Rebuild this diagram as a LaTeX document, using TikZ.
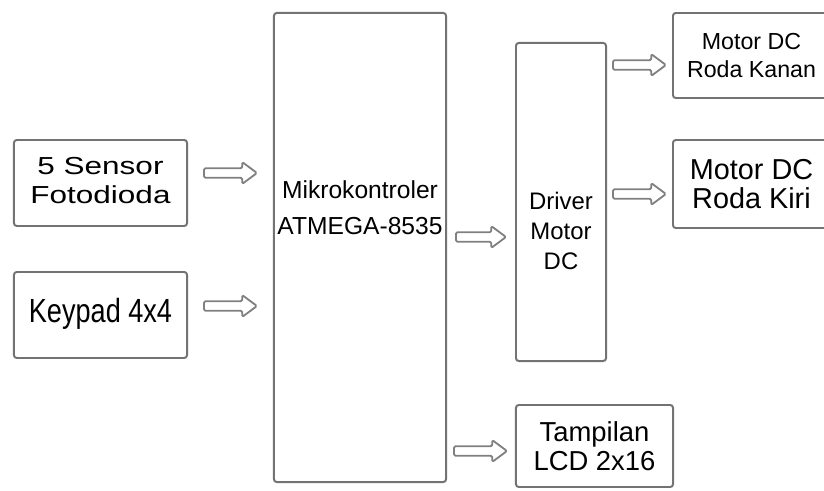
\documentclass[tikz,border=0pt]{standalone}
\usepackage{fontspec}
\setmainfont{Liberation Sans}
\usetikzlibrary{arrows.meta, positioning, calc}

\newcommand{\teksskala}[2]{\scalebox{#1}[1]{\begin{tabular}{@{}c@{}}#2\end{tabular}}}
% hollow block arrow from #1 to #2, gaps #3 (tail) and #4 (head)
\newcommand{\panah}[4]{%
  \draw[arr] let \p1=(#1), \p2=(#2) in
    (\x1+#3,\y1+3.4pt) -- (\x2-#4-10.5pt,\y1+3.4pt) -- (\x2-#4-10.5pt,\y1+7.8pt)
    -- (\x2-#4,\y1) -- (\x2-#4-10.5pt,\y1-7.8pt) -- (\x2-#4-10.5pt,\y1-3.4pt)
    -- (\x1+#3,\y1-3.4pt) -- cycle;}

\begin{document}
\begin{tikzpicture}[
  x=0.025cm, y=-0.025cm,
  blok/.style = {rectangle, rounded corners=2pt, draw=black!55,
                 line width=1.4pt, fill=white, align=center, inner sep=0pt},
  lbl/.style  = {align=center, inner sep=0pt},
  arr/.style  = {draw=black!50, line width=1.3pt, fill=white,
                 line join=round, rounded corners=1pt}
]
\path[use as bounding box, clip] (0,0) rectangle (824,491);

% ===================== INPUT =====================
\node[blok, minimum width=4.325cm, minimum height=2.15cm,
      font=\fontsize{17.5}{21}\selectfont]
  (sensor) at (100.5,183) {\teksskala{1.28}{5 Sensor\\Fotodioda}};
\node[blok, minimum width=4.325cm, minimum height=2.15cm,
      font=\fontsize{23.8}{28}\selectfont]
  (keypad) at (100.5,315) {\teksskala{0.81}{Keypad 4x4}};

% ===================== MIKROKONTROLER =====================
\node[blok, minimum width=4.3cm, minimum height=11.725cm]
  (mcu) at (360,247.5) {};
\node[lbl, font=\fontsize{17.5}{26}\selectfont, anchor=north]
  (mcutxt) at (360,180) {Mikrokontroler\\ATMEGA-8535};

% ===================== DRIVER =====================
\node[blok, minimum width=2.25cm, minimum height=7.95cm]
  (driver) at (561,202) {};
\node[lbl, font=\fontsize{17}{21.3}\selectfont, anchor=north]
  (drivertxt) at (561,192) {Driver\\Motor\\DC};

% ===================== OUTPUT =====================
\node[blok, minimum width=3.925cm, minimum height=2.125cm,
      font=\fontsize{16.5}{20.6}\selectfont]
  (kanan) at (751.5,55.5) {Motor DC\\Roda Kanan};
\node[blok, minimum width=3.925cm, minimum height=2.2cm,
      font=\fontsize{20.5}{20.5}\selectfont]
  (kiri) at (751.5,184) {Motor DC\\Roda Kiri};
\node[blok, minimum width=3.925cm, minimum height=2.05cm,
      font=\fontsize{19.5}{21}\selectfont]
  (lcd) at (594.5,446) {Tampilan\\LCD 2x16};

% arrows: input -> mcu
\panah{sensor.east |- 0,173}{mcu.west |- 0,173}{11.4pt}{11.4pt}
\panah{keypad.east |- 0,306}{mcu.west |- 0,306}{11.4pt}{11.4pt}

% arrows: mcu -> driver, lcd
\panah{mcu.east |- 0,237}{driver.west |- 0,237}{6.4pt}{6.4pt}
\panah{mcu.east |- 0,451}{lcd.west |- 0,451}{5pt}{5.7pt}

% arrows: driver -> motors
\panah{driver.east |- 0,65}{kanan.west |- 0,65}{4.3pt}{4.3pt}
\panah{driver.east |- 0,194}{kiri.west |- 0,194}{4.3pt}{4.3pt}

\end{tikzpicture}
\end{document}
